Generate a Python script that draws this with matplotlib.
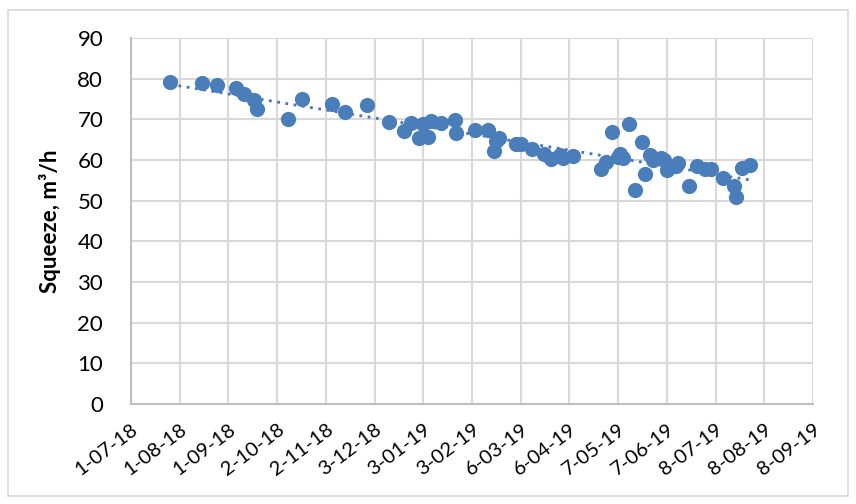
import matplotlib
matplotlib.use("Agg")
import matplotlib.pyplot as plt
import matplotlib.dates as mdates
from matplotlib.patches import Rectangle
import numpy as np
import pandas as pd

plt.rcParams['font.family'] = ['Lato', 'DejaVu Sans']

dates = ["2018-07-26", "2018-08-15", "2018-08-25", "2018-09-06", "2018-09-11",
         "2018-09-17", "2018-09-19", "2018-10-09", "2018-10-18", "2018-11-06",
         "2018-11-14", "2018-11-28", "2018-12-12", "2018-12-22", "2018-12-26",
         "2018-12-31", "2019-01-03", "2019-01-06", "2019-01-08", "2019-01-14",
         "2019-01-23", "2019-01-24", "2019-02-05", "2019-02-13", "2019-02-17",
         "2019-02-18", "2019-02-20", "2019-03-03", "2019-03-06", "2019-03-13",
         "2019-03-21", "2019-03-25", "2019-03-31", "2019-04-02", "2019-04-08",
         "2019-04-26", "2019-04-29", "2019-05-03", "2019-05-07", "2019-05-08",
         "2019-05-10", "2019-05-14", "2019-05-18", "2019-05-22", "2019-05-24",
         "2019-05-27", "2019-05-29", "2019-06-03", "2019-06-05", "2019-06-07",
         "2019-06-13", "2019-06-14", "2019-06-21", "2019-06-26", "2019-07-01",
         "2019-07-05", "2019-07-13", "2019-07-20", "2019-07-21", "2019-07-25",
         "2019-07-30"]
squeeze = [79.1, 78.9, 78.4, 77.6, 76.2,
           74.7, 72.5, 70.0, 75.0, 73.7,
           71.7, 73.5, 69.3, 67.1, 69.0,
           65.4, 68.8, 65.6, 69.5, 69.0,
           69.8, 66.6, 67.3, 67.3, 62.2,
           64.6, 65.4, 63.9, 63.9, 62.7,
           61.4, 60.2, 61.2, 60.4, 60.9,
           57.7, 59.5, 66.8, 60.7, 61.4,
           60.4, 68.8, 52.6, 64.4, 56.5,
           61.2, 60.0, 60.4, 60.0, 57.5,
           58.5, 59.2, 53.6, 58.5, 57.7,
           57.7, 55.5, 53.6, 50.9, 58.0,
           58.7]
tick_labels = ["1-07-18", "1-08-18", "1-09-18", "2-10-18", "2-11-18", "3-12-18",
               "3-01-19", "3-02-19", "6-03-19", "6-04-19", "7-05-19", "7-06-19",
               "8-07-19", "8-08-19", "8-09-19"]
y_ticks = [0, 10, 20, 30, 40, 50, 60, 70, 80, 90]

x = mdates.date2num(pd.to_datetime(dates))
y = np.array(squeeze)
tick_pos = mdates.date2num(pd.to_datetime(tick_labels, format="%d-%m-%y"))

fig = plt.figure(figsize=(8.56, 5.04), dpi=100)
fig.patches.append(Rectangle((8/856, 8/504), 840/856, 486/504, transform=fig.transFigure,
                             fill=False, edgecolor='#D9D9D9', linewidth=1.2))
ax = fig.add_axes([131/856, 100/504, 682/856, 366/504])

color = '#4A7EBB'
ax.scatter(x, y, s=120, color=color, zorder=3, linewidths=0)
coef = np.polyfit(x, y, 1)
xt = np.array([x.min(), x.max()])
ax.plot(xt, np.polyval(coef, xt), linestyle=(0, (1, 2)), color='#4472C4',
        linewidth=2, zorder=2)

ax.set_xlim(tick_pos[0], tick_pos[-1])
ax.set_ylim(0, 90)
ax.set_xticks(tick_pos)
ax.set_xticklabels(tick_labels, rotation=37, ha='right', rotation_mode='anchor',
                   fontsize=14.5)
ax.set_yticks(y_ticks)
ax.set_yticklabels([str(v) for v in y_ticks], fontsize=16)
ax.tick_params(length=0)
ax.tick_params(axis='y', pad=20)
ax.tick_params(axis='x', pad=12)
ax.grid(True, color='#D9D9D9', linewidth=1.5, zorder=0)
ax.set_axisbelow(True)
for s in ['top', 'right']:
    ax.spines[s].set_visible(False)
for s in ['left', 'bottom']:
    ax.spines[s].set_color('#BFBFBF')
    ax.spines[s].set_linewidth(1.5)
ax.set_ylabel('Squeeze, m³/h', fontsize=16, fontweight='bold', labelpad=12)

fig.savefig('out.png', dpi=100)
